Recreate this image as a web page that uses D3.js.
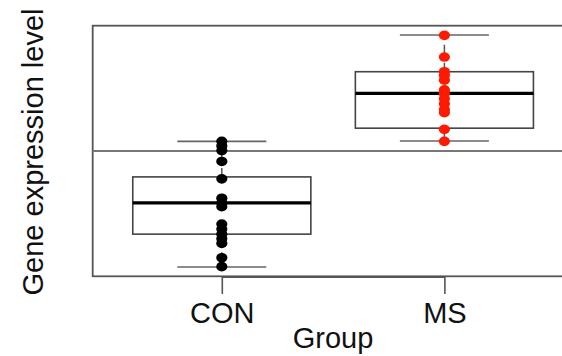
<!DOCTYPE html>
<html>
<head>
<meta charset="utf-8">
<script src="https://cdn.jsdelivr.net/npm/d3@7"></script>
<style>
  body { margin: 0; background: #fff; }
  text { font-family: "Liberation Sans", Arial, Helvetica, sans-serif; fill: #111; }
</style>
</head>
<body>
<div id="chart"></div>
<script>
// groups and their colours
var groups = ["CON", "MS"];
var pointColors = ["#000000", "#fe1a00"];

// individual samples
var conValues = [5.25, 5.13, 5.01, 4.73, 4.28, 3.78, 3.66, 3.56, 3.11, 2.98, 2.85, 2.73, 2.61, 2.24, 2.01];
var msValues = [7.99, 7.43, 7.05, 6.95, 6.83, 6.58, 6.48, 6.35, 6.22, 6.07, 5.99, 5.56, 5.25];

// box summaries: [lower whisker, q1, median, q3, upper whisker]
var conStats = [2.0, 2.85, 3.66, 4.33, 5.25];
var msStats = [5.26, 5.59, 6.49, 7.05, 8.0];

// reference line
var refLine = 5;

var width = 562, height = 356;

var svg = d3.select("#chart")
    .append("svg")
    .attr("width", width)
    .attr("height", height);

var x = d3.scaleLinear()
    .domain([0.42, 2.58])
    .range([92.7, 573.5]);

var y = d3.scaleLinear()
    .domain([1.76, 8.24])
    .range([276.3, 25.7]);

var boxes = [
    {pos: 1, stats: conStats, values: conValues, color: pointColors[0]},
    {pos: 2, stats: msStats, values: msValues, color: pointColors[1]}
];

// plot frame
svg.append("rect")
    .attr("x", x(0.42))
    .attr("y", y(8.24))
    .attr("width", x(2.58) - x(0.42))
    .attr("height", y(1.76) - y(8.24))
    .attr("fill", "none")
    .attr("stroke", "#555")
    .attr("stroke-width", 1.8);

// horizontal line at 5
svg.append("line")
    .attr("x1", x(0.42))
    .attr("x2", x(2.58))
    .attr("y1", y(refLine))
    .attr("y2", y(refLine))
    .attr("stroke", "#777")
    .attr("stroke-width", 2);

var g = svg.selectAll(".box")
    .data(boxes)
    .enter()
    .append("g")
    .attr("class", "box");

// dashed whiskers
g.append("line")
    .attr("x1", function(d) { return x(d.pos); })
    .attr("x2", function(d) { return x(d.pos); })
    .attr("y1", function(d) { return y(d.stats[3]); })
    .attr("y2", function(d) { return y(d.stats[4]); })
    .attr("stroke", "#555")
    .attr("stroke-width", 1.5)
    .attr("stroke-dasharray", "9,9");

g.append("line")
    .attr("x1", function(d) { return x(d.pos); })
    .attr("x2", function(d) { return x(d.pos); })
    .attr("y1", function(d) { return y(d.stats[1]); })
    .attr("y2", function(d) { return y(d.stats[0]); })
    .attr("stroke", "#555")
    .attr("stroke-width", 1.5)
    .attr("stroke-dasharray", "9,9");

// whisker caps
[0, 4].forEach(function(k) {
    g.append("line")
        .attr("x1", function(d) { return x(d.pos - 0.2); })
        .attr("x2", function(d) { return x(d.pos + 0.2); })
        .attr("y1", function(d) { return y(d.stats[k]); })
        .attr("y2", function(d) { return y(d.stats[k]); })
        .attr("stroke", "#666")
        .attr("stroke-width", 1.6);
});

// boxes
g.append("rect")
    .attr("x", function(d) { return x(d.pos - 0.4); })
    .attr("width", function(d) { return x(d.pos + 0.4) - x(d.pos - 0.4); })
    .attr("y", function(d) { return y(d.stats[3]); })
    .attr("height", function(d) { return y(d.stats[1]) - y(d.stats[3]); })
    .attr("fill", "#fff")
    .attr("stroke", "#444")
    .attr("stroke-width", 1.6);

// medians
g.append("line")
    .attr("x1", function(d) { return x(d.pos - 0.4); })
    .attr("x2", function(d) { return x(d.pos + 0.4); })
    .attr("y1", function(d) { return y(d.stats[2]); })
    .attr("y2", function(d) { return y(d.stats[2]); })
    .attr("stroke", "#000")
    .attr("stroke-width", 3.2);

// points
g.selectAll("ellipse")
    .data(function(d) {
        return d.values.map(function(v) { return {pos: d.pos, v: v, color: d.color}; });
    })
    .enter()
    .append("ellipse")
    .attr("cx", function(d) { return x(d.pos); })
    .attr("cy", function(d) { return y(d.v); })
    .attr("rx", 5.6)
    .attr("ry", 4.8)
    .attr("fill", function(d) { return d.color; });

// x axis
var xAxis = d3.axisBottom(x)
    .tickValues([1, 2])
    .tickFormat(function(d) { return groups[d - 1]; })
    .tickSize(17)
    .tickPadding(8.7);

var ax = svg.append("g")
    .attr("transform", "translate(0," + 277 + ")")
    .call(xAxis);

ax.select(".domain").remove();
ax.append("line")
    .attr("x1", x(1))
    .attr("x2", x(2))
    .attr("stroke", "#555")
    .attr("stroke-width", 1.8);
ax.selectAll(".tick line")
    .attr("stroke", "#555")
    .attr("stroke-width", 1.6);
ax.selectAll(".tick text")
    .attr("fill", "#111")
    .style("font-size", "29px")
    .style("font-family", "'Liberation Sans', Arial, Helvetica, sans-serif");

// axis titles
svg.append("text")
    .attr("x", (x(0.42) + x(2.58)) / 2)
    .attr("y", 348)
    .attr("text-anchor", "middle")
    .style("font-size", "29px")
    .text("Group");

svg.append("text")
    .attr("transform", "translate(43," + 152 + ") rotate(-90)")
    .attr("text-anchor", "middle")
    .style("font-size", "29px")
    .text("Gene expression level");
</script>
</body>
</html>
